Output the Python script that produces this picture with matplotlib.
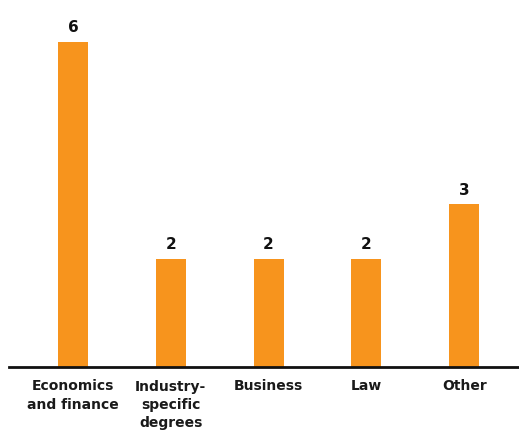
import matplotlib
matplotlib.use('Agg')
import matplotlib.pyplot as plt

categories = ['Economics\nand finance', 'Industry-\nspecific\ndegrees', 'Business', 'Law', 'Other']
values = [6, 2, 2, 2, 3]

bar_color = '#F7941D'

fig = plt.figure(figsize=(5.19, 4.33), dpi=100)
ax = fig.add_axes([9/519, 66/433, 510/519, 367/433])

x = range(len(categories))
ax.bar(x, values, width=0.307, color=bar_color)

for xi, v in zip(x, values):
    ax.text(xi, v + 0.12, str(v), ha='center', va='bottom',
            fontsize=11, fontweight='bold', color='#111111')

ax.set_xlim(-0.654, 4.56)
ax.set_ylim(0, 6.775)

for s in ['top', 'right', 'left']:
    ax.spines[s].set_visible(False)
ax.spines['bottom'].set_linewidth(2)
ax.spines['bottom'].set_color('#111111')

ax.set_yticks([])
ax.set_xticks(list(x))
ax.set_xticklabels(categories, fontsize=10, fontweight='semibold',
                   color='#1a1a1a', linespacing=1.4)
ax.tick_params(axis='x', length=0, pad=9)

fig.savefig('out.png', dpi=100)
